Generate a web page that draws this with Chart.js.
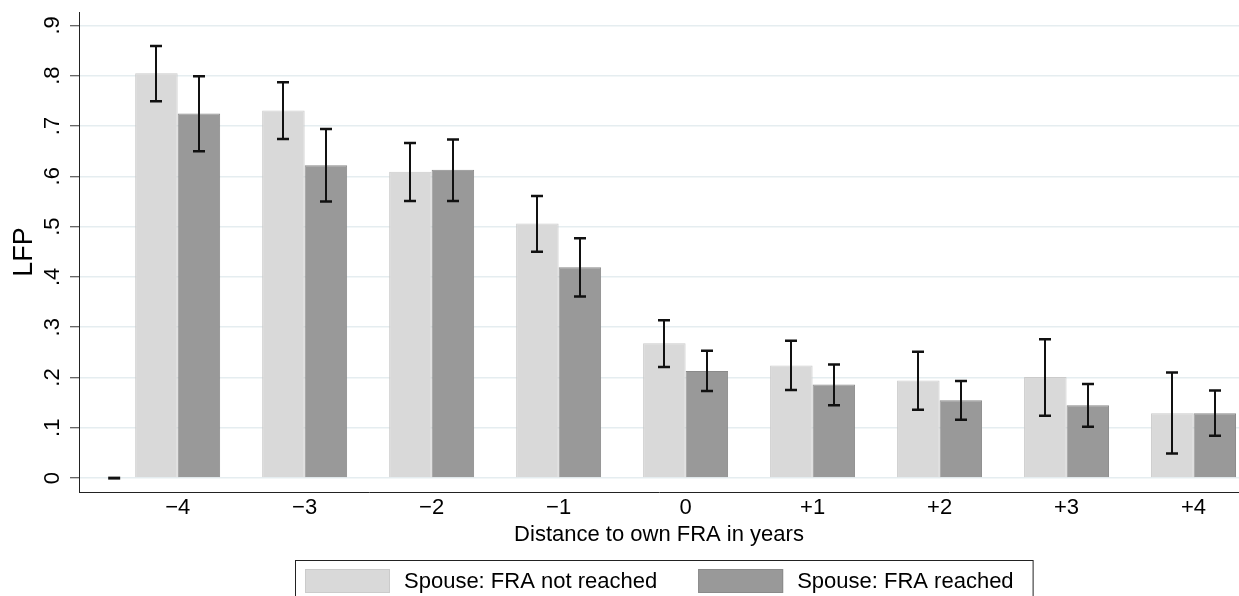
<!DOCTYPE html>
<html>
<head>
<meta charset="utf-8">
<title>LFP by distance to own FRA</title>
<script src="https://cdn.jsdelivr.net/npm/chart.js@4/dist/chart.umd.min.js"></script>
<style>
  html, body { margin: 0; padding: 0; background: #ffffff; }
  #wrap { width: 1239px; height: 596px; }
</style>
</head>
<body>
<div id="wrap"><canvas id="chart" width="1239" height="596"></canvas></div>
<script>
// Years relative to own full retirement age (FRA)
const distances = [-4, -3, -2, -1, 0, 1, 2, 3, 4];
const distanceLabels = ['−4', '−3', '−2', '−1', '0', '+1', '+2', '+3', '+4'];

// Spouse has not reached FRA: mean LFP and confidence interval
const notReachedMean = [0.805, 0.731, 0.609, 0.506, 0.268, 0.224, 0.194, 0.201, 0.129];
const notReachedLow  = [0.749, 0.674, 0.551, 0.450, 0.221, 0.175, 0.136, 0.124, 0.049];
const notReachedHigh = [0.859, 0.787, 0.666, 0.561, 0.314, 0.273, 0.251, 0.276, 0.210];

// Spouse has reached FRA: mean LFP and confidence interval
const reachedMean = [0.725, 0.622, 0.613, 0.419, 0.213, 0.186, 0.155, 0.145, 0.129];
const reachedLow  = [0.650, 0.550, 0.551, 0.361, 0.173, 0.145, 0.116, 0.102, 0.084];
const reachedHigh = [0.799, 0.694, 0.673, 0.477, 0.253, 0.226, 0.193, 0.187, 0.174];

// Empty slot left of the first group (zero-width interval at 0)
const emptySlotX = [-4.5];
const emptySlotY = [0];

// Y axis ticks
const yTickValues = [0, 0.1, 0.2, 0.3, 0.4, 0.5, 0.6, 0.7, 0.8, 0.9];
const yTickLabels = ['0', '.1', '.2', '.3', '.4', '.5', '.6', '.7', '.8', '.9'];

const seriesNames = ['Spouse: FRA not reached', 'Spouse: FRA reached'];

const FONT = '"Liberation Sans", Arial, Helvetica, sans-serif';
const LIGHT_FILL = '#d9d9d9', LIGHT_EDGE = '#cbcbcb';
const DARK_FILL = '#999999', DARK_EDGE = '#8a8a8a';
const INK = '#111111';

Chart.defaults.font.family = FONT;
Chart.defaults.color = '#000000';

// Confidence interval whiskers drawn on top of each bar
const errorBars = {
  id: 'errorBars',
  afterDatasetsDraw(chart) {
    const ctx = chart.ctx;
    const yScale = chart.scales.y;
    const capHalf = 6;
    ctx.save();
    ctx.strokeStyle = INK;
    chart.data.datasets.forEach((ds, di) => {
      if (!ds.ciLow) return;
      const meta = chart.getDatasetMeta(di);
      meta.data.forEach((bar, i) => {
        const x = Math.round(bar.x);
        const yHi = yScale.getPixelForValue(ds.ciHigh[i]);
        const yLo = yScale.getPixelForValue(ds.ciLow[i]);
        ctx.lineWidth = 2;
        ctx.beginPath();
        ctx.moveTo(x, yHi);
        ctx.lineTo(x, yLo);
        ctx.stroke();
        ctx.lineWidth = 2.5;
        ctx.beginPath();
        ctx.moveTo(x - capHalf, yHi);
        ctx.lineTo(x + capHalf, yHi);
        ctx.moveTo(x - capHalf, yLo);
        ctx.lineTo(x + capHalf, yLo);
        ctx.stroke();
      });
    });
    ctx.restore();
  }
};

// Boxed legend below the axis title
const boxedLegend = {
  id: 'boxedLegend',
  afterDraw(chart) {
    const ctx = chart.ctx;
    const area = chart.chartArea;
    const fills = [[LIGHT_FILL, LIGHT_EDGE], [DARK_FILL, DARK_EDGE]];
    const sw = 85, sh = 24, gapText = 14, gapItem = 41, padL = 10, padR = 19;
    ctx.save();
    ctx.font = '22px ' + FONT;
    const widths = seriesNames.map(t => ctx.measureText(t).width);
    const total = padL + padR + gapItem + 2 * (sw + gapText) + widths[0] + widths[1];
    const cx = (area.left + area.right) / 2 + 5;
    const left = Math.round(cx - total / 2);
    const boxTop = chart.height - 36;
    ctx.strokeStyle = '#222222';
    ctx.lineWidth = 1;
    ctx.strokeRect(left + 0.5, boxTop + 0.5, total, 60);
    let x = left + padL;
    const swTop = boxTop + 9;
    seriesNames.forEach((name, i) => {
      ctx.fillStyle = fills[i][0];
      ctx.fillRect(x, swTop, sw, sh);
      ctx.strokeStyle = fills[i][1];
      ctx.strokeRect(x + 0.5, swTop + 0.5, sw - 1, sh - 1);
      x += sw + gapText;
      ctx.fillStyle = '#000000';
      ctx.textBaseline = 'middle';
      ctx.textAlign = 'left';
      ctx.fillText(name, x, swTop + sh / 2 + 1);
      x += widths[i] + gapItem;
    });
    ctx.restore();
  }
};

const toPoints = (xs, ys) => xs.map((x, i) => ({ x: x, y: ys[i] }));

new Chart(document.getElementById('chart'), {
  type: 'bar',
  data: {
    datasets: [
      {
        label: seriesNames[0],
        data: toPoints(distances, notReachedMean),
        ciLow: notReachedLow,
        ciHigh: notReachedHigh,
        backgroundColor: LIGHT_FILL,
        borderColor: LIGHT_EDGE,
        borderWidth: 1,
        categoryPercentage: 85 / 127,
        barPercentage: 1
      },
      {
        label: seriesNames[1],
        data: toPoints(distances, reachedMean),
        ciLow: reachedLow,
        ciHigh: reachedHigh,
        backgroundColor: DARK_FILL,
        borderColor: DARK_EDGE,
        borderWidth: 1,
        categoryPercentage: 85 / 127,
        barPercentage: 1
      },
      {
        type: 'scatter',
        label: 'empty',
        data: toPoints(emptySlotX, emptySlotY),
        pointStyle: 'line',
        radius: 6,
        borderWidth: 3,
        borderColor: INK,
        backgroundColor: INK
      }
    ]
  },
  options: {
    responsive: false,
    animation: false,
    events: [],
    layout: { autoPadding: false, padding: { top: 12, left: 0, right: 0, bottom: 0 } },
    plugins: {
      legend: { display: false },
      tooltip: { enabled: false }
    },
    scales: {
      x: {
        type: 'linear',
        min: -4.777,
        max: 4.358,
        offset: false,
        afterBuildTicks: s => { s.ticks = distances.map(v => ({ value: v })); },
        afterFit: s => {
          s.height = 104;
          s.paddingLeft = 0;
          s.paddingRight = 0;
        },
        grid: { display: false, drawTicks: false, offset: false },
        border: { display: true, color: '#222222', width: 1 },
        ticks: {
          autoSkip: false,
          maxRotation: 0,
          minRotation: 0,
          padding: 3,
          color: '#000000',
          font: { size: 22 },
          callback: (v, i) => distanceLabels[i]
        },
        title: {
          display: true,
          text: 'Distance to own FRA in years',
          color: '#000000',
          font: { size: 22 },
          padding: { top: 0, bottom: 48 }
        }
      },
      y: {
        type: 'linear',
        min: -0.0276,
        max: 0.9266,
        afterBuildTicks: s => { s.ticks = yTickValues.map(v => ({ value: v })); },
        afterFit: s => {
          s.width = 79;
          s.paddingTop = 0;
          s.paddingBottom = 0;
        },
        grid: {
          color: '#e5edf0',
          lineWidth: 1.5,
          drawTicks: true,
          tickLength: 9,
          tickColor: '#333333',
          tickWidth: 1
        },
        border: { display: true, color: '#222222', width: 1 },
        ticks: {
          autoSkip: false,
          minRotation: 90,
          maxRotation: 90,
          crossAlign: 'center',
          padding: 8,
          color: '#000000',
          font: { size: 22 },
          callback: (v, i) => yTickLabels[i]
        },
        title: {
          display: true,
          text: 'LFP',
          color: '#000000',
          font: { size: 27 },
          padding: { top: 8, bottom: 0 }
        }
      }
    }
  },
  plugins: [errorBars, boxedLegend]
});
</script>
</body>
</html>
